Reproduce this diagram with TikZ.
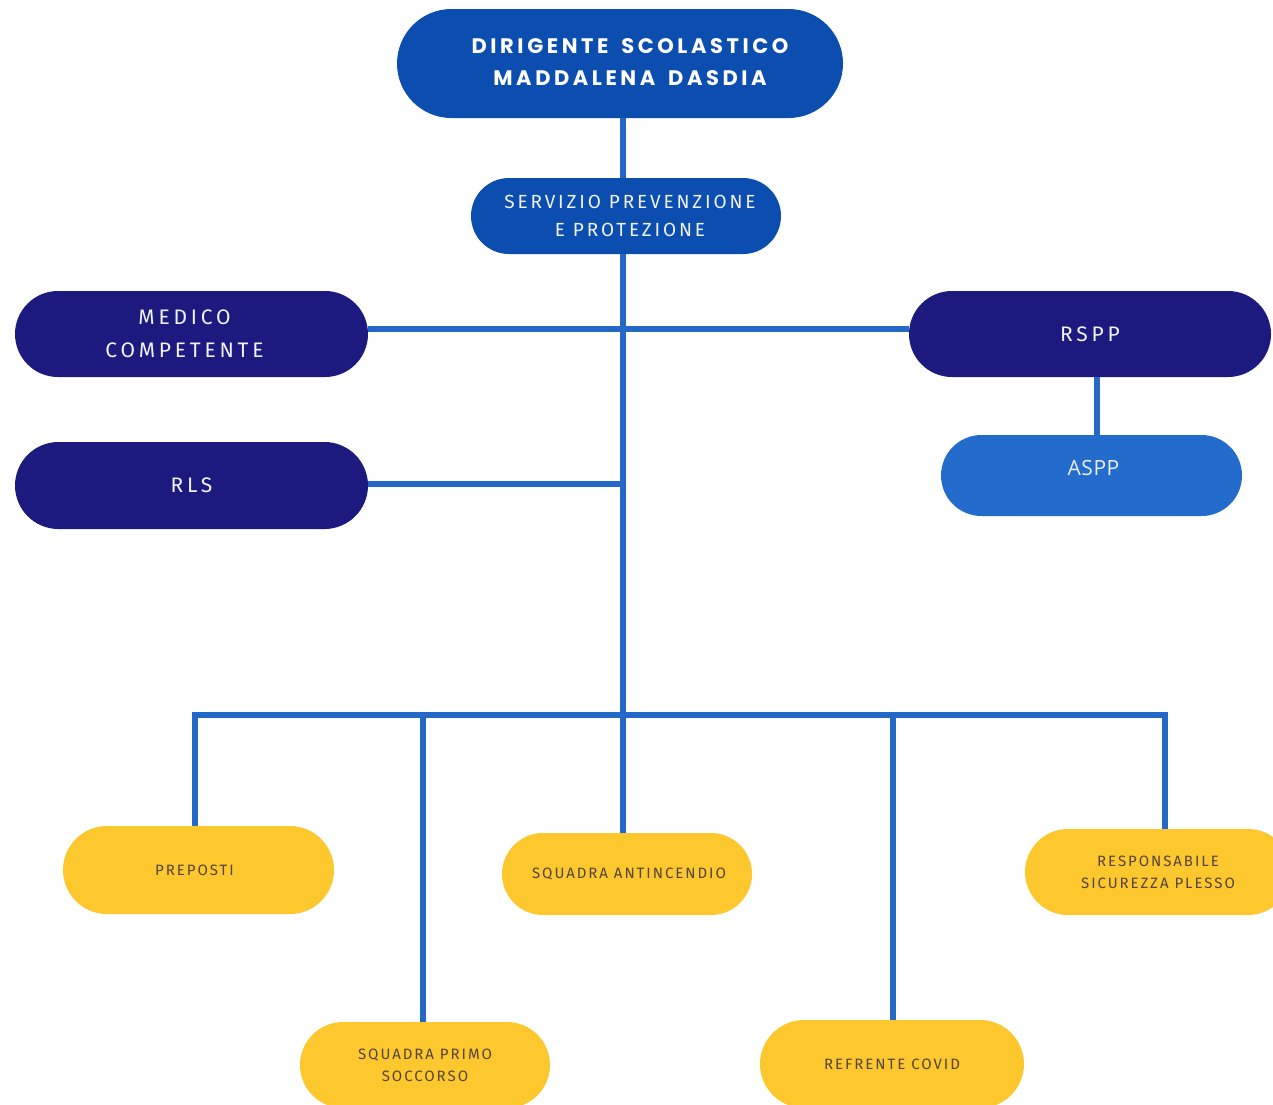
\documentclass[tikz,border=0pt]{standalone}
\usepackage{fontspec}
\setmainfont{Fira Sans}
\newfontfamily\topfont[LetterSpace=17,WordSpace=1.6]{Poppins}
\newfontfamily\sppfont[LetterSpace=15]{Fira Sans}
\newfontfamily\midfont[LetterSpace=18]{Fira Sans}
\newfontfamily\smallfont[LetterSpace=13]{Fira Sans}
\newfontfamily\plainfont{Open Sans}
\usetikzlibrary{shapes.misc}
\definecolor{topblue}{HTML}{0C4DB0}
\definecolor{navy}{HTML}{1C1A7E}
\definecolor{midblue}{HTML}{246CCB}
\definecolor{linecol}{HTML}{2469C8}
\definecolor{yel}{HTML}{FCC82E}
\definecolor{yeltext}{HTML}{54443A}
\tikzset{
  pill/.style={rounded rectangle, rounded rectangle arc length=180, inner sep=0pt, align=center, draw=none},
  topbox/.style={pill, fill=topblue, text=white, font=\topfont\bfseries\fontsize{21}{32}\selectfont},
  sppbox/.style={pill, fill=topblue, text=white!95!blue, font=\sppfont\fontsize{19}{28}\selectfont},
  navybox/.style={pill, fill=navy, text=white!95!blue, font=\midfont\fontsize{21}{33}\selectfont},
  asppbox/.style={pill, fill=midblue, text=white!92!blue, font=\plainfont\fontsize{21}{26}\selectfont},
  yelbox/.style={pill, fill=yel, text=yeltext, font=\smallfont\fontsize{15}{22}\selectfont},
  conn/.style={draw=linecol, line width=6pt}
}
\begin{document}
\begin{tikzpicture}[x=1pt,y=-1pt]
\useasboundingbox (0,0) rectangle (1273,1104);
\fill[white] (0,0) rectangle (1273,1104);
\coordinate (j1) at (623,329);
\coordinate (j2) at (623,484);
\coordinate (barL) at (195,715);
\coordinate (barR) at (1165,715);
\coordinate (d2) at (423,715);
\coordinate (d4) at (893,715);
\coordinate (ax) at (1097,400);
% nodes
\node[topbox, minimum width=446pt, minimum height=109pt] (top) at (620,63.5) {\hspace*{20pt}\raisebox{2pt}{DIRIGENTE SCOLASTICO}\\\hspace*{20pt}\raisebox{2pt}{MADDALENA DASDIA}};
\node[sppbox, minimum width=310pt, minimum height=76pt] (spp) at (626,216) {\hspace*{8pt}SERVIZIO PREVENZIONE\\\hspace*{8pt}E PROTEZIONE};
\node[navybox, minimum width=353pt, minimum height=86pt] (med) at (191.5,334) {\hspace*{-14pt}MEDICO\\\hspace*{-14pt}COMPETENTE};
\node[navybox, minimum width=362pt, minimum height=86pt] (rspp) at (1090,334) {\raisebox{-2pt}{RSPP}};
\node[asppbox, minimum width=301pt, minimum height=81pt] (aspp) at (1091.5,475.5) {\raisebox{15pt}{\hspace*{4pt}A\kern0.5pt S\kern0.5pt P\kern0.5pt P}};
\node[navybox, minimum width=353pt, minimum height=87pt] (rls) at (191.5,485.5) {RLS};
\node[yelbox, minimum width=271pt, minimum height=88pt] (prep) at (198.5,870) {\hspace*{-8pt}\raisebox{-3pt}{PREPOSTI}};
\node[yelbox, minimum width=250pt, minimum height=82pt] (anti) at (627,874) {\hspace*{4pt}\raisebox{-2pt}{SQUADRA ANTINCENDIO}};
\node[yelbox, minimum width=266pt, minimum height=86pt] (resp) at (1158,872) {RESPONSABILE\\SICUREZZA PLESSO};
\node[yelbox, minimum width=250pt, minimum height=86pt] (primo) at (425,1065) {SQUADRA PRIMO\\SOCCORSO};
\node[yelbox, minimum width=264pt, minimum height=88pt] (covid) at (892,1064) {\raisebox{-2pt}{REFRENTE COVID}};
% connectors
\draw[conn] (top.south -| j1) -- (spp.north -| j1);
\draw[conn] (spp.south -| j1) -- (anti.north -| j1);
\draw[conn] (med.east |- j1) -- (rspp.west |- j1);
\draw[conn] (rls.east |- j2) -- (j2);
\draw[conn] (rspp.south -| ax) -- (aspp.north -| ax);
\draw[conn] ([xshift=-3pt]barL) -- ([xshift=3pt]barR);
\draw[conn] (barL) -- (prep.north -| barL);
\draw[conn] (d2) -- (primo.north -| d2);
\draw[conn] (d4) -- (covid.north -| d4);
\draw[conn] (barR) -- (resp.north -| barR);
\end{tikzpicture}
\end{document}
